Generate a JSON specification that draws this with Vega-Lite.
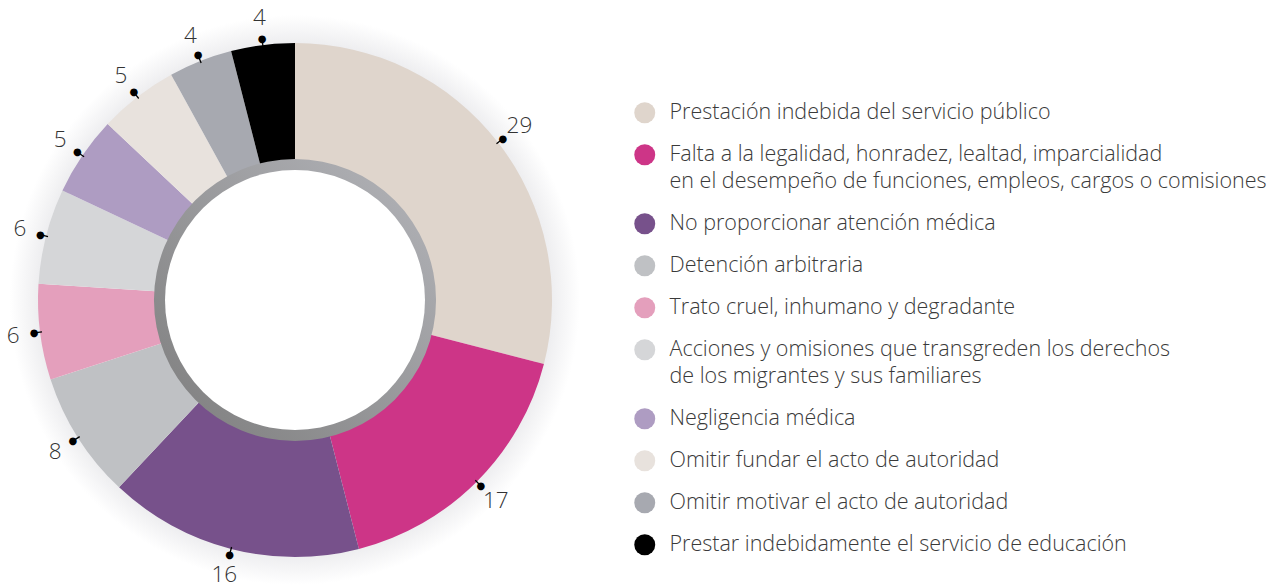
{
  "$schema": "https://vega.github.io/schema/vega-lite/v6.json",
  "width": 590,
  "height": 600,
  "padding": 0,
  "background": "white",
  "config": {"view": {"stroke": null}, "font": "Open Sans", "style": {"guide-label": {"lineHeight": 27.5}}},
  "datasets": {
    "quejas": [
      {"categoria": "Prestación indebida del servicio público", "valor": 29, "orden": 1},
      {"categoria": "Falta a la legalidad, honradez, lealtad, imparcialidad en el desempeño de funciones, empleos, cargos o comisiones", "valor": 17, "orden": 2},
      {"categoria": "No proporcionar atención médica", "valor": 16, "orden": 3},
      {"categoria": "Detención arbitraria", "valor": 8, "orden": 4},
      {"categoria": "Trato cruel, inhumano y degradante", "valor": 6, "orden": 5},
      {"categoria": "Acciones y omisiones que transgreden los derechos de los migrantes y sus familiares", "valor": 6, "orden": 6},
      {"categoria": "Negligencia médica", "valor": 5, "orden": 7},
      {"categoria": "Omitir fundar el acto de autoridad", "valor": 5, "orden": 8},
      {"categoria": "Omitir motivar el acto de autoridad", "valor": 4, "orden": 9},
      {"categoria": "Prestar indebidamente el servicio de educación", "valor": 4, "orden": 10}
    ],
    "anillo": [{"parte": "anillo", "valor": 1}]
  },
  "resolve": {"scale": {"theta": "independent"}},
  "layer": [
    {
      "data": {"name": "anillo"},
      "mark": {
        "type": "arc", "radius": 250, "radius2": 285,
        "fill": {"gradient": "radial", "x1": 0.5, "y1": 0.5, "x2": 0.5, "y2": 0.5, "r1": 0.43, "r2": 0.5,
          "stops": [{"offset": 0, "color": "#d3d3d6"}, {"offset": 0.3, "color": "#eeeef0"}, {"offset": 1, "color": "#ffffff"}]}
      },
      "encoding": {"theta": {"field": "valor", "type": "quantitative"}}
    },
    {
      "data": {"name": "quejas"},
      "layer": [
        {
          "mark": {"type": "arc", "radius": 257, "radius2": 132},
          "encoding": {
            "color": {
              "field": "categoria", "type": "nominal",
              "scale": {
                "domain": [
                  "Prestación indebida del servicio público",
                  "Falta a la legalidad, honradez, lealtad, imparcialidad en el desempeño de funciones, empleos, cargos o comisiones",
                  "No proporcionar atención médica",
                  "Detención arbitraria",
                  "Trato cruel, inhumano y degradante",
                  "Acciones y omisiones que transgreden los derechos de los migrantes y sus familiares",
                  "Negligencia médica",
                  "Omitir fundar el acto de autoridad",
                  "Omitir motivar el acto de autoridad",
                  "Prestar indebidamente el servicio de educación"
                ],
                "range": ["#dfd5cc", "#cd3587", "#77518b", "#bfc1c4", "#e49fbc", "#d5d6d8", "#ae9cc2", "#e8e2dd", "#a7a9b0", "#000000"]
              },
              "legend": {
                "orient": "none", "legendX": 634, "legendY": 102,
                "title": null, "symbolType": "circle", "symbolSize": 440, "symbolStrokeWidth": 0,
                "labelFontSize": 21.5, "labelFont": "Open Sans", "labelFontWeight": 300, "labelColor": "#3a3a3a",
                "labelLimit": 800, "labelOffset": 14, "rowPadding": 19, "labelBaseline": "middle",
                "labelExpr": "datum.label == 'Falta a la legalidad, honradez, lealtad, imparcialidad en el desempeño de funciones, empleos, cargos o comisiones' ? ['Falta a la legalidad, honradez, lealtad, imparcialidad', 'en el desempeño de funciones, empleos, cargos o comisiones'] : datum.label == 'Acciones y omisiones que transgreden los derechos de los migrantes y sus familiares' ? ['Acciones y omisiones que transgreden los derechos', 'de los migrantes y sus familiares'] : datum.label"
              }
            }
          }
        },
        {
          "mark": {"type": "arc", "radius": 255, "radius2": 263, "padAngle": 3, "fill": "transparent", "stroke": "#000000", "strokeWidth": 1.3}
        },
        {
          "mark": {"type": "text", "radius": 263, "text": "●", "font": "DejaVu Sans", "fontSize": 10, "color": "#000000", "baseline": "middle", "align": "center"}
        },
        {
          "mark": {"type": "text", "radius": 284, "font": "Open Sans", "fontWeight": 300, "fontSize": 22.5, "color": "#333333", "baseline": "middle", "align": "center"},
          "encoding": {"text": {"field": "valor", "type": "quantitative"}}
        }
      ],
      "encoding": {
        "theta": {"field": "valor", "type": "quantitative", "stack": true},
        "order": {"field": "orden", "type": "quantitative"}
      }
    },
    {
      "data": {"name": "anillo"},
      "mark": {
        "type": "arc", "radius": 141, "radius2": 129,
        "fill": {"gradient": "linear", "x1": 1, "y1": 0, "x2": 0, "y2": 1,
          "stops": [{"offset": 0, "color": "#b4b5ba"}, {"offset": 1, "color": "#7d7d7d"}]}
      },
      "encoding": {"theta": {"field": "valor", "type": "quantitative"}}
    },
    {
      "data": {"name": "anillo"},
      "mark": {"type": "arc", "radius": 130, "fill": "#ffffff"},
      "encoding": {"theta": {"field": "valor", "type": "quantitative"}}
    }
  ]
}
